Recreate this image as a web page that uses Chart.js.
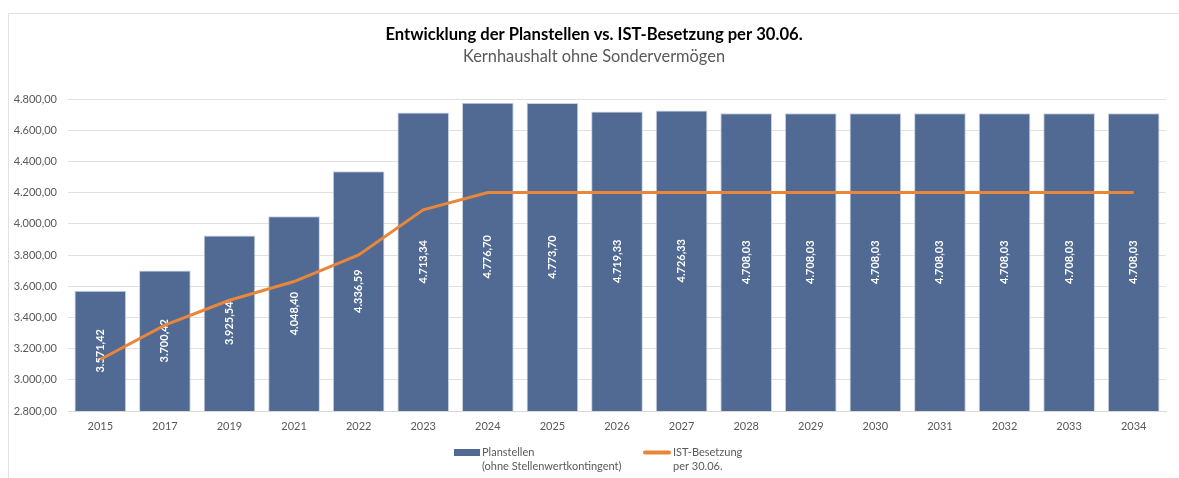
<!DOCTYPE html>
<html>
<head>
<meta charset="utf-8">
<script src="https://cdn.jsdelivr.net/npm/chart.js@4/dist/chart.umd.min.js"></script>
<style>
  html, body { margin: 0; padding: 0; background: #ffffff; }
  #wrap { position: relative; width: 1179px; height: 478px; }
</style>
</head>
<body>
<div id="wrap"><canvas id="c" width="1179" height="478"></canvas></div>
<script>
const titleText = 'Entwicklung der Planstellen vs. IST-Besetzung per 30.06.';
const subtitleText = 'Kernhaushalt ohne Sondervermögen';
const years = ['2015','2017','2019','2021','2022','2023','2024','2025','2026','2027','2028','2029','2030','2031','2032','2033','2034'];
const planstellen = [3571.42, 3700.42, 3925.54, 4048.40, 4336.59, 4713.34, 4776.70, 4773.70, 4719.33, 4726.33, 4708.03, 4708.03, 4708.03, 4708.03, 4708.03, 4708.03, 4708.03];
const istBesetzung = [3130, 3350, 3510, 3630, 3800, 4090, 4200, 4200, 4200, 4200, 4200, 4200, 4200, 4200, 4200, 4200, 4200];
const planLabel = ['Planstellen', '(ohne Stellenwertkontingent)'];
const istLabel = ['IST-Besetzung', 'per 30.06.'];
const yMin = 2800, yMax = 4800, yStep = 200;

const FONT = 'Lato, "Open Sans", sans-serif';
const BAR_COLOR = '#506a93';
const LINE_COLOR = '#e8863a';
const TEXT_GRAY = '#595959';

function fmtDE(v) {
  const parts = Number(v).toFixed(2).split('.');
  const intPart = parts[0].replace(/\B(?=(\d{3})+(?!\d))/g, '.');
  return intPart + ',' + parts[1];
}

const decorPlugin = {
  id: 'decor',
  beforeDraw(chart) {
    const ctx = chart.ctx;
    ctx.save();
    ctx.strokeStyle = '#e6e1e1';
    ctx.lineWidth = 1;
    ctx.beginPath();
    ctx.moveTo(8.5, 478);
    ctx.lineTo(8.5, 13.5);
    ctx.lineTo(1179, 13.5);
    ctx.stroke();
    ctx.restore();
  },
  afterDatasetDraw(chart, args) {
    if (args.index !== 0) return;
    const ctx = chart.ctx;
    const yScale = chart.scales.y;
    const xScale = chart.scales.x;
    const basePx = yScale.getPixelForValue(yMin);
    ctx.save();
    ctx.fillStyle = '#ffffff';
    ctx.font = 'bold 11px ' + FONT;
    ctx.textAlign = 'center';
    ctx.textBaseline = 'middle';
    planstellen.forEach((v, i) => {
      const x = xScale.getPixelForValue(i);
      const top = yScale.getPixelForValue(v);
      const cy = (top + basePx) / 2;
      ctx.save();
      ctx.translate(x, cy);
      ctx.rotate(-Math.PI / 2);
      ctx.fillText(fmtDE(v), 0, 0);
      ctx.restore();
    });
    ctx.restore();
  },
  afterDraw(chart) {
    const ctx = chart.ctx;
    ctx.save();
    // title
    ctx.textAlign = 'center';
    ctx.textBaseline = 'middle';
    ctx.fillStyle = '#000000';
    ctx.font = 'bold 16.6px ' + FONT;
    ctx.fillText(titleText, 594, 35);
    ctx.fillStyle = TEXT_GRAY;
    ctx.font = '16.4px ' + FONT;
    ctx.fillText(subtitleText, 594, 57);

    // legend
    ctx.font = '11px ' + FONT;
    ctx.textAlign = 'left';
    ctx.textBaseline = 'middle';
    ctx.fillStyle = BAR_COLOR;
    ctx.fillRect(454, 449, 26, 7);
    ctx.fillStyle = TEXT_GRAY;
    planLabel.forEach((t, k) => ctx.fillText(t, 482, 452 + k * 14));
    ctx.strokeStyle = LINE_COLOR;
    ctx.lineWidth = 4;
    ctx.lineCap = 'round';
    ctx.beginPath();
    ctx.moveTo(645, 452.5);
    ctx.lineTo(669, 452.5);
    ctx.stroke();
    istLabel.forEach((t, k) => ctx.fillText(t, 673, 452 + k * 14));
    ctx.restore();
  }
};

new Chart(document.getElementById('c'), {
  data: {
    labels: years,
    datasets: [
      {
        type: 'bar',
        label: planLabel.join(' '),
        data: planstellen,
        backgroundColor: BAR_COLOR,
        borderColor: '#c9d2e0',
        borderWidth: 1,
        barPercentage: 0.8,
        categoryPercentage: 1.0,
        order: 2
      },
      {
        type: 'line',
        label: istLabel.join(' '),
        data: istBesetzung,
        borderColor: LINE_COLOR,
        borderWidth: 3,
        pointRadius: 0,
        tension: 0,
        fill: false,
        order: 1
      }
    ]
  },
  options: {
    responsive: false,
    animation: false,
    layout: { padding: { left: 0, top: 99, right: 13, bottom: 47 } },
    plugins: {
      legend: { display: false },
      tooltip: { enabled: false },
      title: { display: false }
    },
    scales: {
      x: {
        grid: { display: false, drawTicks: false },
        border: { display: true, color: '#d9d9d9', width: 1 },
        ticks: { color: TEXT_GRAY, font: { family: FONT, size: 11 }, padding: 9, maxRotation: 0 },
        afterFit(scale) { scale.height = 20; }
      },
      y: {
        min: yMin,
        max: yMax,
        grid: { color: '#e3dfdf', drawTicks: false, lineWidth: 1 },
        border: { display: false },
        ticks: {
          stepSize: yStep,
          color: TEXT_GRAY,
          font: { family: FONT, size: 11 },
          padding: 11,
          callback: (v) => fmtDE(v)
        },
        afterFit(scale) { scale.width = 68; }
      }
    }
  },
  plugins: [decorPlugin]
});
</script>
</body>
</html>
